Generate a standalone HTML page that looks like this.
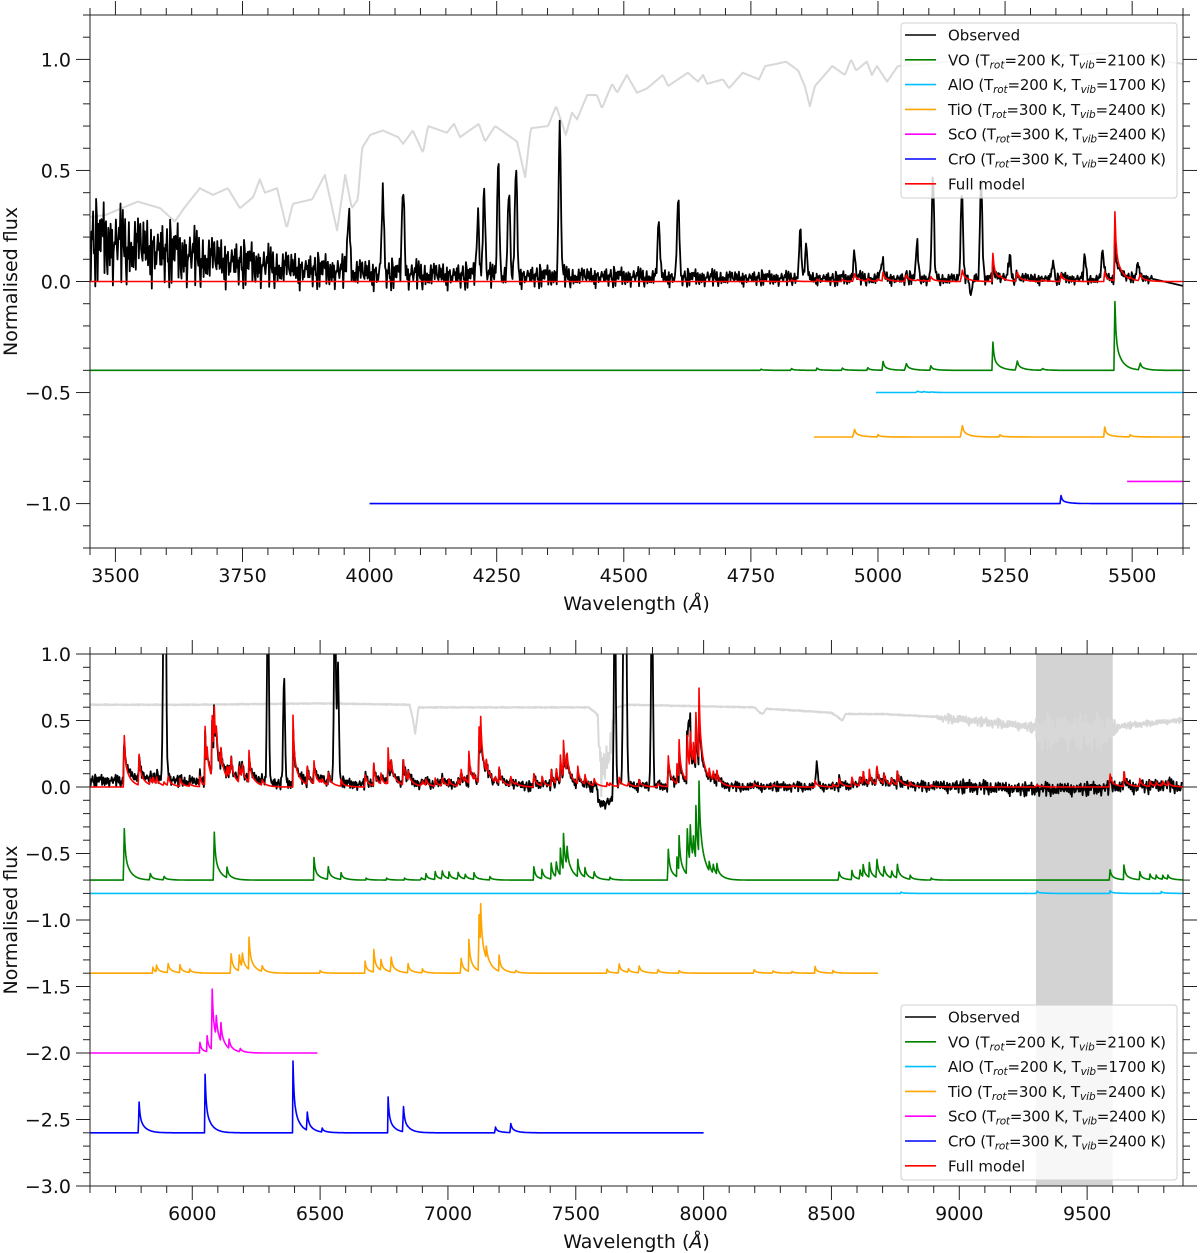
<!DOCTYPE html>
<html><head><meta charset="utf-8">
<style>
html,body{margin:0;padding:0;background:#fff;}
svg{display:block;font-family:"DejaVu Sans","Liberation Sans",sans-serif;}
</style></head>
<body>
<svg id="fig" width="1200" height="1253" viewBox="0 0 1200 1253" xmlns="http://www.w3.org/2000/svg">
<defs>
<clipPath id="clipTop"><rect x="90" y="15" width="1093" height="533"/></clipPath>
<clipPath id="clipBot"><rect x="90" y="654" width="1093" height="532"/></clipPath>
</defs>
<g id="top"></g>
<g id="bot"></g>
</svg>
<script>
// ---------- DATA ----------
const noiseSeq=[0.3,-0.8,0.6,-0.2,0.9,-0.5,0.1,-1.0,0.7,0.2,-0.6,0.4,-0.3,0.8,-0.9,0.5,0.0,-0.4,1.0,-0.7,0.3,0.6,-0.2,-0.8,0.4,0.9,-0.5,0.2,-0.1,0.7,-0.9,0.1,0.5,-0.6,0.8,-0.3,-0.7,0.6,0.2,-0.4,0.9,-1.0,0.3,0.7,-0.2,-0.5,0.4,0.1,-0.8,0.6,-0.3,0.8,-0.6,0.2,0.5,-0.9,0.7,-0.1,-0.4,1.0,-0.6,0.3,-0.2,0.6,-0.8,0.4,0.9,-0.3,-0.7,0.1,0.5,-0.5,0.8,-0.9,0.2,0.6,-0.4,0.0,0.7,-0.6,0.3,-1.0,0.9,-0.2,0.4,-0.7,0.5,0.1,-0.3,0.8,-0.5,0.6,-0.8,0.2,-0.1,0.7,-0.4];

// Top panel
const topXTicks=[3500,3750,4000,4250,4500,4750,5000,5250,5500];
const topYTicks=[-1.0,-0.5,0.0,0.5,1.0];
const topGrayW=[3450,3481,3544,3588,3617,3635,3666,3692,3721,3745,3771,3784,3794,3818,3837,3849,3887,3912,3936,3952,3965,3977,3985,4001,4026,4056,4066,4085,4105,4115,4152,4166,4178,4215,4227,4247,4290,4306,4317,4351,4367,4386,4398,4408,4428,4447,4457,4477,4487,4506,4526,4546,4577,4587,4626,4646,4656,4664,4695,4707,4734,4766,4778,4801,4819,4843,4856,4866,4876,4910,4935,4947,4957,4978,4988,4998,5018,5039,5142,5240,5338,5437,5535,5600];
const topGrayF=[0.29,0.30,0.36,0.33,0.27,0.33,0.42,0.39,0.42,0.33,0.38,0.46,0.40,0.42,0.24,0.35,0.37,0.48,0.23,0.48,0.33,0.37,0.60,0.66,0.68,0.65,0.62,0.68,0.58,0.70,0.67,0.71,0.65,0.71,0.63,0.70,0.63,0.47,0.69,0.70,0.79,0.66,0.76,0.73,0.84,0.84,0.78,0.89,0.85,0.93,0.85,0.87,0.93,0.88,0.94,0.90,0.93,0.89,0.91,0.87,0.94,0.91,0.97,0.98,0.99,0.95,0.88,0.79,0.88,0.97,0.93,1.00,0.95,0.99,0.93,0.97,0.90,0.97,0.99,1.00,1.01,1.03,1.00,0.98];
const topContW=[3450,3550,3650,3750,3850,4000,4200,4500,5000,5540];
const topContF=[0.18,0.15,0.11,0.08,0.055,0.035,0.025,0.02,0.01,0.01];
const topNoiseW=[3450,3600,3750,3900,4100,4300,4500,4800,5200,5540];
const topNoiseA=[0.22,0.17,0.12,0.09,0.075,0.06,0.05,0.038,0.032,0.025];
const topObsLineW=[3959,4026,4066,4213,4225,4253,4274,4288,4374,4569,4607,4847,4859,4953,5008,5077,5108,5165,5183,5203,5259,5344,5407,5442,5511];
const topObsLineH=[0.32,0.37,0.42,0.29,0.40,0.52,0.37,0.50,0.67,0.25,0.36,0.22,0.14,0.10,0.08,0.15,0.45,0.37,-0.08,0.46,0.10,0.08,0.10,0.13,0.06];
const topVOW=[4770,4830,4880,4930,4980,5010,5055,5104,5226,5273,5323,5466,5515];
const topVOH=[0.005,0.008,0.01,0.01,0.012,0.04,0.04,0.02,0.127,0.055,0.01,0.31,0.04];
const topAlOW=[5077,5090,5105];
const topAlOH=[0.008,0.004,0.003];
const topTiOW=[4953,5000,5165,5240,5446,5496];
const topTiOH=[0.045,0.01,0.068,0.01,0.045,0.01];
const topScOW=[];const topScOH=[];
const topCrOW=[5360];const topCrOH=[0.036];

// Bottom panel
const botXTicks=[6000,6500,7000,7500,8000,8500,9000,9500];
const botYTicks=[-3.0,-2.5,-2.0,-1.5,-1.0,-0.5,0.0,0.5,1.0];
const botGrayW=[5600,6000,6500,6850,6862,6872,6885,7200,7550,7585,7600,7615,7630,7645,7660,7700,8200,8220,8232,8245,8500,8530,8542,8555,8700,9000,9300,9600,9875];
const botGrayF=[0.62,0.62,0.63,0.62,0.52,0.40,0.60,0.60,0.60,0.55,0.10,0.25,0.30,0.45,0.60,0.62,0.60,0.56,0.55,0.59,0.56,0.52,0.50,0.55,0.55,0.52,0.46,0.46,0.51];
const botGrayNoiseW=[5600,7580,7590,7650,7660,8900,8950,9280,9320,9600,9620,9875];
const botGrayNoiseA=[0.005,0.005,0.15,0.15,0.005,0.005,0.04,0.04,0.15,0.15,0.03,0.02];
const botContW=[5600,6000,6500,7000,7500,7580,7590,7640,7650,8000,8500,9000,9300,9600,9875];
const botContF=[0.05,0.03,0.02,0.01,0.0,-0.02,-0.13,-0.13,0.0,0.0,0.0,0.005,-0.02,-0.01,0.0];
const botNoiseW=[5600,7000,8800,9000,9875];
const botNoiseA=[0.05,0.045,0.04,0.06,0.06];
const botObsLineW=[5889,5895,6296,6359,6558,6570,7653,7688,7696,7798,7943,8443];
const botObsLineH=[1.5,1.5,1.5,0.80,1.5,0.90,1.5,1.5,1.5,1.5,0.35,0.15];
const botVOW=[5733,5835,5889,6085,6136,6476,6531,6582,6680,6760,6830,6895,6914,6950,6977,7004,7039,7067,7102,7164,7336,7368,7404,7423,7440,7452,7465,7508,7536,7571,7634,7861,7896,7904,7935,7947,7959,7970,7982,8022,8037,8052,8529,8580,8611,8624,8648,8677,8705,8735,8757,8808,8890,9589,9644,9706,9746,9770,9796,9816];
const botVOH=[0.45,0.055,0.03,0.42,0.08,0.17,0.11,0.05,0.015,0.015,0.015,0.02,0.045,0.06,0.07,0.05,0.06,0.04,0.05,0.025,0.10,0.07,0.12,0.13,0.20,0.27,0.17,0.13,0.07,0.06,0.02,0.27,0.15,0.26,0.40,0.33,0.20,0.40,0.54,0.07,0.08,0.08,0.07,0.07,0.08,0.09,0.11,0.16,0.09,0.06,0.12,0.03,0.015,0.09,0.11,0.06,0.04,0.03,0.03,0.03];
const botAlOW=[8772,9303,9590,9790];
const botAlOH=[0.01,0.02,0.02,0.015];
const botTiOW=[5846,5860,5905,5952,5990,6151,6183,6195,6222,6273,6500,6676,6710,6738,6777,6844,6900,7051,7082,7121,7128,7150,7200,7265,7622,7669,7705,7747,7821,7904,8197,8271,8345,8436,8506];
const botTiOH=[0.045,0.05,0.08,0.06,0.025,0.17,0.14,0.12,0.24,0.05,0.02,0.09,0.17,0.08,0.13,0.07,0.03,0.13,0.24,0.49,0.30,0.09,0.12,0.02,0.03,0.08,0.03,0.06,0.03,0.02,0.03,0.02,0.015,0.05,0.02];
const botScOW=[6030,6058,6077,6093,6112,6144,6187];
const botScOH=[0.08,0.12,0.53,0.18,0.14,0.07,0.03];
const botCrOW=[5791,6050,6394,6449,6508,6766,6825,7185,7245];
const botCrOH=[0.27,0.44,0.54,0.16,0.03,0.27,0.22,0.05,0.08];

// ---------- helpers ----------
const NS="http://www.w3.org/2000/svg";
function interp(xs,ys,x){if(x<=xs[0])return ys[0];for(let i=1;i<xs.length;i++){if(x<=xs[i]){const t=(x-xs[i-1])/(xs[i]-xs[i-1]);return ys[i-1]+t*(ys[i]-ys[i-1]);}}return ys[ys.length-1];}
function mk(tag,attrs,parent){const e=document.createElementNS(NS,tag);for(const k in attrs)e.setAttribute(k,attrs[k]);parent.appendChild(e);return e;}
function prof(d,t1,t2){if(d<-1.5)return 0;if(d<0)return 1+d/1.5;return 0.55*Math.exp(-d/t1)+0.45*Math.exp(-d/t2);}
function band(ws,hs,w,t1,t2){let s=0;for(let i=0;i<ws.length;i++){const d=w-ws[i];if(d>-2&&d<8*t2)s+=hs[i]*prof(d,t1,t2);}return s;}
function gauss(ws,hs,w,sig){let s=0;for(let i=0;i<ws.length;i++){const d=(w-ws[i])/sig;if(Math.abs(d)<5)s+=hs[i]*Math.exp(-0.5*d*d);}return s;}
function nz(i){const n=noiseSeq.length;return 0.65*noiseSeq[i%n]+0.45*noiseSeq[(i*7+3)%n];}

function panel(g,P){
  const sx=w=>P.x0+(w-P.w0)/(P.w1-P.w0)*(P.x1-P.x0);
  const sy=f=>P.y0+(P.f1-f)/(P.f1-P.f0)*(P.y1-P.y0);
  const pts=(arr)=>arr.map(p=>sx(p[0]).toFixed(1)+','+sy(p[1]).toFixed(1)).join(' ');
  const clip=mk('g',{'clip-path':'url(#'+P.clip+')'},g);
  
  
  if(P.span){const r=mk('rect',{x:sx(P.span[0]),y:P.y0,width:sx(P.span[1])-sx(P.span[0]),height:P.y1-P.y0,fill:'#d3d3d3'},clip);
    
    }
  function line(arr,color,width,name){const l=mk('polyline',{points:pts(arr),fill:'none',stroke:color,'stroke-width':width,'stroke-linejoin':'round'},clip);
    
    return l;}
  // template (gray)
  const ga=[];let gi=0;for(let w=P.w0;w<=P.w1;w+=P.step){let f=interp(P.grayW,P.grayF,w);if(P.grayNW)f+=interp(P.grayNW,P.grayNA,w)*(nz(gi+11)-0.3);gi++;ga.push([w,f]);}
  line(ga,'#d8d8d8',2,'template-spectrum');
  // components
  const comps=P.comps;
  const compVals=comps.map(()=>[]);
  const model=[];
  for(let w=P.w0;w<=P.w1;w+=P.step){let m=0;comps.forEach((c,i)=>{if(w>=c.start&&w<=c.end){const v=band(c.W,c.H,w,P.t1,P.t2);compVals[i].push([w,c.base+v]);m+=v;}});model.push([w,m]);}
  // observed
  const allW=[].concat(...comps.map(c=>c.W)),allH=[].concat(...comps.map(c=>c.H));
  const obs=[];let oi=0;
  for(let w=P.w0;w<=P.obsEnd;w+=P.ostep){let f=interp(P.contW,P.contF,w)+interp(P.noiseW,P.noiseA,w)*nz(oi);oi++;
    f+=P.obsModelScale*band(allW,allH,w,P.t1,P.t2);
    f+=gauss(P.lineW,P.lineH,w,P.sig);obs.push([w,f]);}
  if(P.tail)obs.push(P.tail);
  line(obs,'#000',1.8,'observed-spectrum');
  line(model,'#ff0000',1.6,'full-model');
  comps.forEach((c,i)=>line(compVals[i],c.color,1.6,c.name));
  // axes
  mk('rect',{x:P.x0,y:P.y0,width:P.x1-P.x0,height:P.y1-P.y0,fill:'none',stroke:'#222','stroke-width':1},g);
  const tk=mk('g',{stroke:'#222','stroke-width':1},g);
  
  const tl=mk('g',{'font-size':'19px',fill:'#111'},g);
  
  for(let w=Math.ceil(P.w0/P.minorX)*P.minorX;w<=P.w1;w+=P.minorX){const major=P.xTicks.includes(w);const L=major?14:7;const x=sx(w);
    mk('line',{x1:x,x2:x,y1:P.y1,y2:P.y1+L},tk);mk('line',{x1:x,x2:x,y1:P.y0,y2:P.y0-L},tk);}
  P.xTicks.forEach(w=>{const t=mk('text',{x:sx(w),y:P.y1+34,'text-anchor':'middle'},tl);t.textContent=String(w);
    
    });
  for(let k=Math.ceil(P.f0*10-1e-6);k<=Math.floor(P.f1*10+1e-6);k++){const f=k/10;const major=Math.abs(f*2-Math.round(f*2))<1e-6;const L=major?14:7;const y=sy(f);
    mk('line',{x1:P.x0,x2:P.x0-L,y1:y,y2:y},tk);mk('line',{x1:P.x1,x2:P.x1+L,y1:y,y2:y},tk);}
  P.yTicks.forEach(f=>{const t=mk('text',{x:P.x0-19,y:sy(f)+7,'text-anchor':'end'},tl);t.textContent=(f<0?'\u2212':'')+Math.abs(f).toFixed(1);
    
    });
  const xl=mk('text',{x:(P.x0+P.x1)/2,y:P.y1+62,'text-anchor':'middle','font-size':'19px',fill:'#111'},g);
  xl.innerHTML='Wavelength (<tspan font-style="italic">Å</tspan>)';
  
  
  const yl=mk('text',{x:0,y:0,transform:'translate(17,'+((P.y0+P.y1)/2)+') rotate(-90)','text-anchor':'middle','font-size':'19px',fill:'#111'},g);
  yl.textContent='Normalised flux';
  
  
  // legend
  const lg=mk('g',{},g);
  
  
  mk('rect',{x:901,y:P.legY,width:276,height:175,rx:3,fill:'#fff','fill-opacity':0.82,stroke:'#d0d0d0'},lg);
  const items=[['#000','Observed',null],['#008000','VO','200','2100'],['#00bfff','AlO','200','1700'],['#ffa500','TiO','300','2400'],['#ff00ff','ScO','300','2400'],['#0000ff','CrO','300','2400'],['#ff0000','Full model',null]];
  items.forEach((it,i)=>{const y=P.legY+12+i*24.8;
    const ln=mk('line',{x1:905,x2:936,y1:y,y2:y,stroke:it[0],'stroke-width':1.6},lg);
    
    const t=mk('text',{x:948,y:y+5.5,'font-size':'15px',fill:'#111'},lg);
    if(it[2]){t.setAttribute('textLength','218');
      t.innerHTML=it[1]+' (T<tspan font-style="italic" font-size="10.5px" dy="3">rot</tspan><tspan dy="-3">=</tspan>'+it[2]+' K, T<tspan font-style="italic" font-size="10.5px" dy="3">vib</tspan><tspan dy="-3">=</tspan>'+it[3]+' K)';}
    else t.textContent=it[1];
    
    });
}

panel(document.getElementById('top'),{x0:90,x1:1183,y0:15,y1:548,w0:3450,w1:5600,f0:-1.2,f1:1.2,clip:'clipTop',step:2,ostep:1.5,
  xTicks:topXTicks,yTicks:topYTicks,minorX:50,
  grayW:topGrayW,grayF:topGrayF,
  contW:topContW,contF:topContF,noiseW:topNoiseW,noiseA:topNoiseA,lineW:topObsLineW,lineH:topObsLineH,sig:2.2,obsEnd:5540,tail:[5600,-0.02],obsModelScale:0.6,
  t1:2,t2:12,legY:23,
  comps:[
   {name:'vo-model',color:'#008000',base:-0.4,start:3450,end:5600,W:topVOW,H:topVOH},
   {name:'alo-model',color:'#00bfff',base:-0.5,start:4996,end:5600,W:topAlOW,H:topAlOH},
   {name:'tio-model',color:'#ffa500',base:-0.7,start:4874,end:5600,W:topTiOW,H:topTiOH},
   {name:'sco-model',color:'#ff00ff',base:-0.9,start:5490,end:5600,W:topScOW,H:topScOH},
   {name:'cro-model',color:'#0000ff',base:-1.0,start:4000,end:5600,W:topCrOW,H:topCrOH}]});

panel(document.getElementById('bot'),{x0:90,x1:1183,y0:654,y1:1186,w0:5600,w1:9875,f0:-3.0,f1:1.0,clip:'clipBot',step:2,ostep:2.5,
  xTicks:botXTicks,yTicks:botYTicks,minorX:100,span:[9300,9600],
  grayW:botGrayW,grayF:botGrayF,grayNW:botGrayNoiseW,grayNA:botGrayNoiseA,
  contW:botContW,contF:botContF,noiseW:botNoiseW,noiseA:botNoiseA,lineW:botObsLineW,lineH:botObsLineH,sig:3.5,obsEnd:9872,tail:null,obsModelScale:0.85,
  t1:4,t2:22,legY:1005,
  comps:[
   {name:'vo-model',color:'#008000',base:-0.7,start:5600,end:9875,W:botVOW,H:botVOH},
   {name:'alo-model',color:'#00bfff',base:-0.8,start:5600,end:9875,W:botAlOW,H:botAlOH},
   {name:'tio-model',color:'#ffa500',base:-1.4,start:5600,end:8682,W:botTiOW,H:botTiOH},
   {name:'sco-model',color:'#ff00ff',base:-2.0,start:5600,end:6490,W:botScOW,H:botScOH},
   {name:'cro-model',color:'#0000ff',base:-2.6,start:5600,end:8000,W:botCrOW,H:botCrOH}]});
</script>
</body></html>
